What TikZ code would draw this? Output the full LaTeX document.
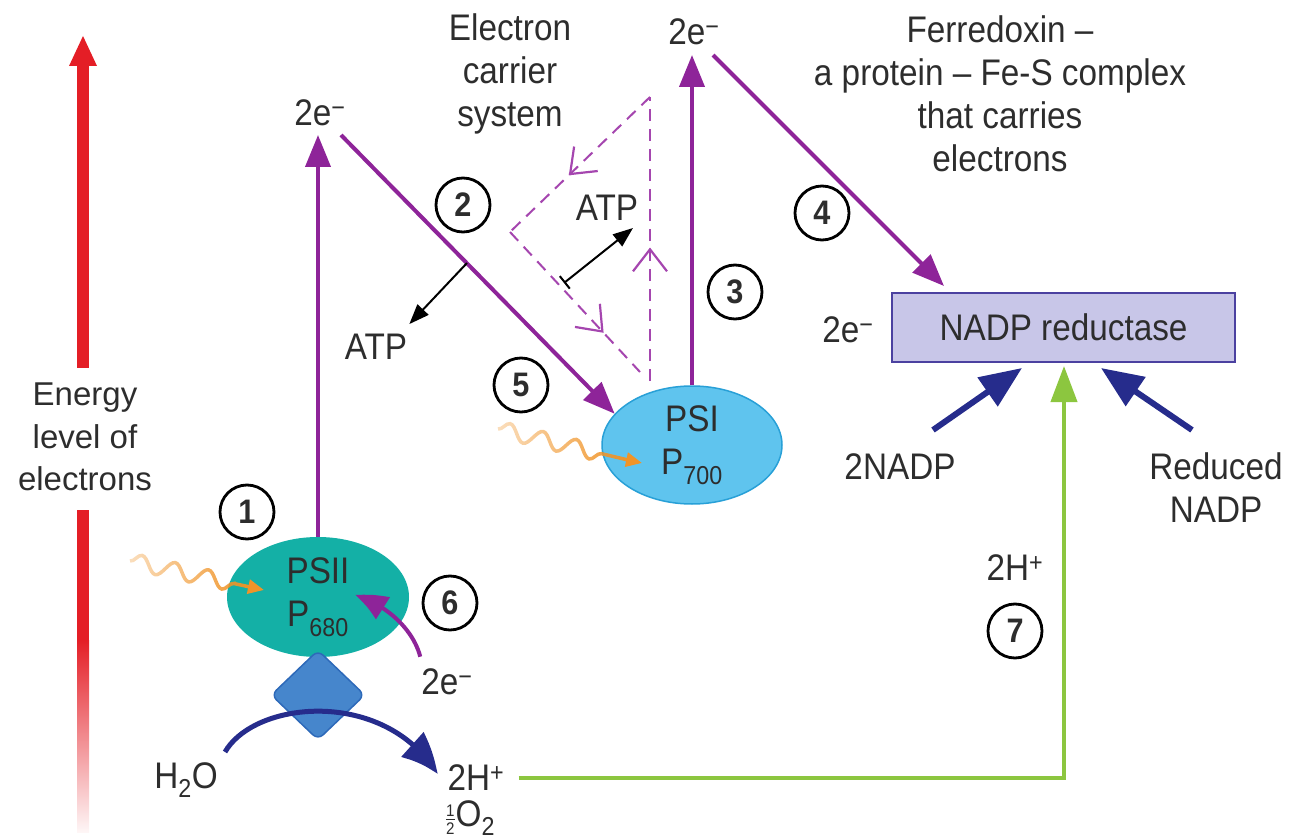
\documentclass[tikz,border=0pt]{standalone}
\usepackage{amsmath}
\usepackage{fontspec}
\setmainfont[FakeStretch=0.9]{Liberation Sans}
\newfontfamily\widefont{Liberation Sans}
\usetikzlibrary{arrows.meta,bending,shapes.geometric,decorations.pathmorphing,decorations.markings,fadings}
\definecolor{txt}{RGB}{45,45,45}
\definecolor{purp}{RGB}{142,36,153}
\definecolor{dpurp}{RGB}{165,70,175}
\definecolor{navy}{RGB}{38,44,140}
\definecolor{grn}{RGB}{140,198,63}
\definecolor{redc}{RGB}{228,30,38}
\definecolor{tealc}{RGB}{20,176,166}
\definecolor{psib}{RGB}{95,196,238}
\definecolor{psid}{RGB}{40,160,215}
\definecolor{diamc}{RGB}{70,134,204}
\definecolor{diamd}{RGB}{45,105,185}
\definecolor{boxf}{RGB}{200,198,232}
\definecolor{boxd}{RGB}{75,65,160}
\definecolor{orng}{RGB}{240,148,40}
\tikzfading[name=fadein, left color=transparent!70, right color=transparent!0]
\begin{document}
\begin{tikzpicture}[x=1pt,y=-1pt,
  font=\fontsize{37}{43}\selectfont,
  every node/.style={inner sep=0pt, text=txt},
  num/.style={circle, draw=black, line width=2.8pt, minimum size=54pt, font=\fontsize{34}{34}\selectfont\bfseries},
  parrow/.style={draw=purp, line width=4pt, -{Triangle[length=32pt,width=25pt]}},
  barrow/.style={draw=navy, line width=6pt, -{Triangle[length=42pt,width=34pt]}},
  garrow/.style={draw=grn, line width=4pt, -{Triangle[length=36pt,width=26pt]}},
  katp/.style={draw=black, line width=2pt, -{Triangle[length=20pt,width=15pt]}},
  dsh/.style={draw=dpurp, line width=2pt, dash pattern=on 12pt off 8pt},
  chev/.style={postaction={decorate}, decoration={markings, mark=at position #1 with {\arrow[dpurp]{Straight Barb[length=22pt,width=34pt,line width=2.2pt]}}}},
  wave/.style={draw=orng, line width=3.5pt, path fading=fadein, decorate, decoration={snake, amplitude=8pt, segment length=34pt, post length=14pt}}
]
\useasboundingbox (0,0) rectangle (1302,840);

% energy arrow
\fill[redc] (77,64) rectangle (89,368);
\fill[redc] (69,66) -- (83,36) -- (97,66) -- cycle;
\fill[redc] (77,510) rectangle (89,641);
\shade[top color=redc, bottom color=redc!4] (77,640) rectangle (89,832);
\node[font=\widefont\fontsize{33}{42.5}\selectfont, align=center] (energy) at (85,437) {Energy\\level of\\electrons};

% titles
\node[align=center] (ecs) at (510,74) {Electron\\carrier\\system};
\node[align=center] (fer) at (1000,94) {Ferredoxin –\\a protein – Fe-S complex\\that carries\\electrons};

% photosystems
\node[ellipse, fill=tealc, minimum width=182pt, minimum height=120pt, align=center] (psii) at (318,597) {PSII\\P\textsubscript{680}};
\node[diamond, fill=diamc, draw=diamd, line width=1.5pt, rounded corners=7pt, minimum width=94pt, minimum height=90pt] (ox) at (318,695) {};
\node[ellipse, fill=psib, draw=psid, line width=1.5pt, minimum width=180pt, minimum height=118pt, align=center] (psi) at (692,445) {PSI\\P\textsubscript{700}};
\node[draw=boxd, fill=boxf, line width=2pt, minimum width=343pt, minimum height=69pt] (box) at (1063.5,327.5) {NADP reductase};

% labels
\node (e1) at (320,113) {2e\textsuperscript{−}};
\node (e2) at (694,32) {2e\textsuperscript{−}};
\node (e3) at (848,330) {2e\textsuperscript{−}};
\node (e6) at (447,682) {2e\textsuperscript{−}};
\node (atp1) at (376,347) {ATP};
\node (atp2) at (607,208) {ATP};
\node (h2o) at (186,780) {H\textsubscript{2}O};
\node (hp) at (476,778) {2H\textsuperscript{+}};
\node (o2) at (470,818) {{\fontsize{24}{24}\selectfont$\frac{\text{1}}{\text{2}}$}O\textsubscript{2}};
\node (hp2) at (1015,568) {2H\textsuperscript{+}};
\node (nadp) at (900,467) {2NADP};
\node[align=center] (rnadp) at (1216,488) {Reduced\\NADP};

% numbers
\node[num] (n1) at (247,512) {1};
\node[num] (n2) at (463,205) {2};
\node[num] (n3) at (735,292) {3};
\node[num] (n4) at (822,213) {4};
\node[num] (n5) at (521,385) {5};
\node[num] (n6) at (450,603) {6};
\node[num] (n7) at (1015,631) {7};

% coordinates
\coordinate (t1) at (318,135);
\coordinate (a2s) at (341,135);
\coordinate (a3t) at (692,55);
\coordinate (a4s) at (713,55);
\coordinate (b1s) at (933,430);
\coordinate (b2s) at (1192,430);
\coordinate (k1s) at (467,263);
\coordinate (k2s) at (564,283);
\coordinate (k2t) at (633,228);
\coordinate (d1) at (650,97);
\coordinate (d2) at (510,232);
\coordinate (d3) at (640,372);
\coordinate (d4) at (650,381);
\coordinate (w1s) at (130,561);
\coordinate (w1t) at (250,587);
\coordinate (w2s) at (498,429);
\coordinate (w2t) at (628,460);
\coordinate (ws) at (225,752);
\coordinate (p6t) at (355,595);

% dashed cycle
\path[dsh, chev=0.58] (d1) -- (d2);
\path[dsh, chev=0.72] (d2) -- (d3);
\path[dsh, chev=0.47] (d4) -- (d1);

% electron flow
\draw[parrow] (psii.north) -- (t1);
\draw[parrow] (a2s) -- (psi.158);
\draw[parrow] (psi.north) -- (a3t);
\draw[parrow] (a4s) -- ([xshift=53pt,yshift=6pt]box.north west);
\draw[draw=purp, line width=4pt, -{Triangle[length=32pt,width=25pt,bend]}] ([xshift=-1pt,yshift=12pt]e6.north west) .. controls (414,632) and (390,606) .. (p6t);

% ATP
\draw[katp] (k1s) -- ([xshift=2pt,yshift=10pt]atp1.north east);
\draw[katp, {Bar[width=16pt]}-{Triangle[length=20pt,width=15pt]}] (k2s) -- (k2t);

% water splitting
\draw[draw=navy, line width=5pt, -{Triangle[length=40pt,width=32pt,bend]}] (ws) .. controls (255,700) and (385,688) .. ([xshift=-10pt,yshift=4pt]hp.west);

% NADP
\draw[barrow] (b1s) -- ([xshift=131pt,yshift=-5pt]box.south west);
\draw[barrow] (b2s) -- ([xshift=210pt,yshift=-5pt]box.south west);
\draw[garrow] ([xshift=14pt]hp.east) -| ([xshift=173pt,yshift=-3pt]box.south west);

% light
\draw[wave] (w1s) -- (w1t);
\draw[draw=orng, line width=3.5pt, -{Triangle[length=16pt,width=14pt]}] (w1t) -- (264,590);
\draw[wave] (w2s) -- (w2t);
\draw[draw=orng, line width=3.5pt, -{Triangle[length=16pt,width=14pt]}] (w2t) -- (642,463);
\end{tikzpicture}
\end{document}
